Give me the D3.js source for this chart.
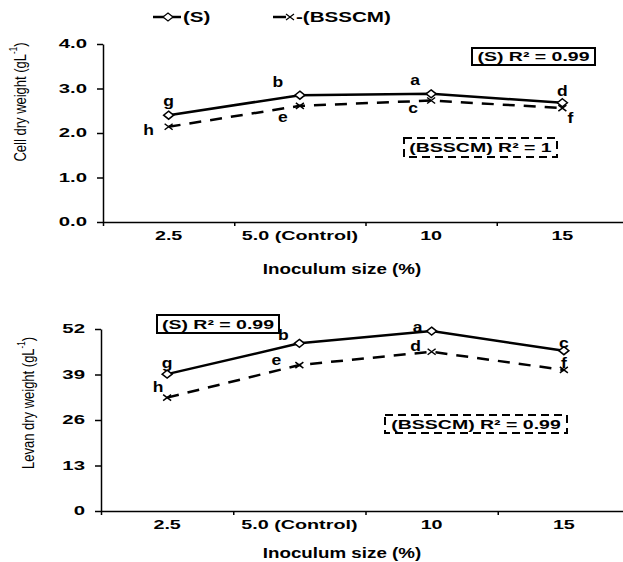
<!DOCTYPE html>
<html>
<head>
<meta charset="utf-8">
<script src="https://cdn.jsdelivr.net/npm/d3@7"></script>
<style>
  body { margin: 0; background: #fff; }
  svg { display: block; }
</style>
</head>
<body>
<div id="chart"></div>
<script>
const categories = ['2.5', '5.0 (Control)', '10', '15'];
const seriesNames = ['(S)', '(BSSCM)'];

// top panel - cell dry weight
const cellS = [2.40, 2.85, 2.88, 2.68];
const cellBSSCM = [2.14, 2.61, 2.73, 2.56];
const cellLettersS = ['g', 'b', 'a', 'd'];
const cellLettersBSSCM = ['h', 'e', 'c', 'f'];
const cellTicks = [0, 1, 2, 3, 4];
const cellR2 = ['0.99', '1'];

// bottom panel - levan dry weight
const levanS = [39.1, 47.9, 51.4, 45.8];
const levanBSSCM = [32.4, 41.7, 45.5, 40.3];
const levanLettersS = ['g', 'b', 'a', 'c'];
const levanLettersBSSCM = ['h', 'e', 'd', 'f'];
const levanTicks = [0, 13, 26, 39, 52];
const levanR2 = ['0.99', '0.99'];

const FONT = '"Liberation Sans", Arial, sans-serif';
const width = 623, height = 562;

const svg = d3.select('#chart')
  .append('svg')
  .attr('width', width)
  .attr('height', height);

// text in the picture is stretched sideways, so scale x
function label(g, x, y, str, size, opts = {}) {
  const sx = opts.sx || 1.5;
  return g.append('text')
    .attr('transform', `translate(${x},${y}) scale(${sx},1)`)
    .attr('text-anchor', opts.anchor || 'middle')
    .attr('dominant-baseline', 'central')
    .style('font-family', FONT)
    .style('font-size', size + 'px')
    .style('font-weight', opts.weight || 'bold')
    .text(str);
}

const diamond = 'M0,-4L5,0L0,4L-5,0Z';
const cross = 'M-4,-3L4,3M-4,3L4,-3';

function drawPanel(p) {
  const g = svg.append('g');

  const x = d3.scaleBand()
    .domain(categories)
    .range(p.xRange)
    .padding(0);

  const xEdge = d3.scaleLinear()
    .domain([0, categories.length])
    .range(p.xRange);

  const y = d3.scaleLinear()
    .domain(d3.extent(p.ticks))
    .range(p.yRange);

  const cx = c => x(c) + x.bandwidth() / 2;

  // y axis
  const yAxis = g.append('g')
    .attr('transform', `translate(${p.xRange[0]},0)`)
    .call(d3.axisLeft(y).tickValues(p.ticks).tickSize(6).tickSizeOuter(0).tickFormat(p.fmt));
  yAxis.selectAll('path, line').attr('stroke', '#000').attr('stroke-width', 1.5);
  yAxis.selectAll('text')
    .attr('x', 0)
    .attr('transform', `translate(-16,0) scale(1.7,1)`)
    .style('font-family', FONT)
    .style('font-size', '12px')
    .style('font-weight', 'bold')
    .attr('fill', '#000');

  // x axis (ticks on category edges)
  const xAxis = g.append('g')
    .attr('transform', `translate(0,${p.yRange[0]})`)
    .call(d3.axisBottom(xEdge).tickValues(d3.range(categories.length + 1)).tickSize(4).tickSizeOuter(0).tickFormat(''));
  xAxis.selectAll('path, line').attr('stroke', '#000').attr('stroke-width', 1.5);

  const xLabels = g.append('g')
    .attr('transform', `translate(0,${p.yRange[0]})`)
    .call(d3.axisBottom(x).tickSize(0).tickPadding(9));
  xLabels.select('.domain').remove();
  xLabels.selectAll('text')
    .attr('transform', 'scale(1.58,1)')
    .style('font-family', FONT)
    .style('font-size', '12.5px')
    .style('font-weight', 'bold')
    .attr('fill', '#000');

  // axis titles
  const yt = g.append('text')
    .attr('transform', `translate(${p.titleX},${p.titleY}) scale(1.25,1) rotate(-90)`)
    .attr('text-anchor', 'middle')
    .attr('dominant-baseline', 'central')
    .style('font-family', FONT)
    .style('font-size', '13px')
    .text(p.yTitle + ' (gL');
  yt.append('tspan').attr('dy', -5).style('font-size', '8px').text('-1');
  yt.append('tspan').attr('dy', 5).text(')');

  label(g, 342, p.xTitleY, 'Inoculum size (%)', 14, { sx: 1.34 });

  // lines
  const line = d3.line()
    .x((d, i) => cx(categories[i]))
    .y(d => y(d));

  g.append('path')
    .datum(p.b)
    .attr('d', line)
    .attr('fill', 'none')
    .attr('stroke', '#000')
    .attr('stroke-width', 2.5)
    .attr('stroke-dasharray', '12,9');

  g.append('path')
    .datum(p.s)
    .attr('d', line)
    .attr('fill', 'none')
    .attr('stroke', '#000')
    .attr('stroke-width', 2.5);

  // markers
  g.selectAll('.mb')
    .data(p.b)
    .join('path')
    .attr('class', 'mb')
    .attr('transform', (d, i) => `translate(${cx(categories[i])},${y(d)})`)
    .attr('d', cross)
    .attr('fill', 'none')
    .attr('stroke', '#000')
    .attr('stroke-width', 1.5);

  g.selectAll('.ms')
    .data(p.s)
    .join('path')
    .attr('class', 'ms')
    .attr('transform', (d, i) => `translate(${cx(categories[i])},${y(d)})`)
    .attr('d', diamond)
    .attr('fill', '#fff')
    .attr('stroke', '#000')
    .attr('stroke-width', 1.5);

  // significance letters
  p.s.forEach((v, i) => {
    label(g, cx(categories[i]) + p.offS[i][0], y(v) + p.offS[i][1], p.lettersS[i], 14, { sx: 1.25 });
  });
  p.b.forEach((v, i) => {
    label(g, cx(categories[i]) + p.offB[i][0], y(v) + p.offB[i][1], p.lettersB[i], 14, { sx: 1.25 });
  });

  // R² boxes
  p.boxes.forEach(b => {
    g.append('rect')
      .attr('x', b.x).attr('y', b.y)
      .attr('width', b.w).attr('height', b.h)
      .attr('fill', '#fff')
      .attr('stroke', '#000')
      .attr('stroke-width', 2)
      .attr('stroke-dasharray', b.dash);
    label(g, b.x + b.w / 2, b.y + b.h / 2 + 0.5, b.text, 13, { sx: 1.5 });
  });
}

drawPanel({
  s: cellS, b: cellBSSCM,
  lettersS: cellLettersS, lettersB: cellLettersBSSCM,
  ticks: cellTicks, fmt: d3.format('.1f'),
  xRange: [103, 628], yRange: [222, 44],
  yTitle: 'Cell dry weight', titleX: 20, titleY: 102, xTitleY: 269,
  offS: [[0, -14], [-22, -13], [-16, -14], [0, -12]],
  offB: [[-20, 3], [-17, 11], [-18, 8], [8, 10]],
  boxes: [
    { text: seriesNames[0] + ' R² = ' + cellR2[0], x: 472, y: 48, w: 123, h: 17, dash: null },
    { text: seriesNames[1] + ' R² = ' + cellR2[1], x: 404, y: 138, w: 153, h: 19, dash: '8,5' }
  ]
});

drawPanel({
  s: levanS, b: levanBSSCM,
  lettersS: levanLettersS, lettersB: levanLettersBSSCM,
  ticks: levanTicks, fmt: d3.format('d'),
  xRange: [101, 630], yRange: [511, 329],
  yTitle: 'Levan dry weight', titleX: 28, titleY: 403, xTitleY: 553,
  offS: [[0, -11], [-16, -8], [-14, -4], [0, -8]],
  offB: [[-9, -10], [-23, -5], [-16, -6], [0, -7]],
  boxes: [
    { text: seriesNames[0] + ' R² = ' + levanR2[0], x: 157, y: 315, w: 122, h: 18, dash: null },
    { text: seriesNames[1] + ' R² = ' + levanR2[1], x: 385, y: 415, w: 182, h: 18, dash: '8,5' }
  ]
});

// legend at top
const legend = svg.append('g');
legend.append('line')
  .attr('x1', 153).attr('x2', 181).attr('y1', 17).attr('y2', 17)
  .attr('stroke', '#000').attr('stroke-width', 2.5);
legend.append('path')
  .attr('transform', 'translate(168,17)')
  .attr('d', diamond)
  .attr('fill', '#fff').attr('stroke', '#000').attr('stroke-width', 1.2);
label(legend, 183, 17, seriesNames[0], 14, { anchor: 'start', sx: 1.47 });

legend.append('line')
  .attr('x1', 273).attr('x2', 286).attr('y1', 17).attr('y2', 17)
  .attr('stroke', '#000').attr('stroke-width', 2.5);
legend.append('path')
  .attr('transform', 'translate(290,17)')
  .attr('d', cross)
  .attr('fill', 'none').attr('stroke', '#000').attr('stroke-width', 1.2);
label(legend, 296, 17, '-' + seriesNames[1], 14, { anchor: 'start', sx: 1.47 });
</script>
</body>
</html>
